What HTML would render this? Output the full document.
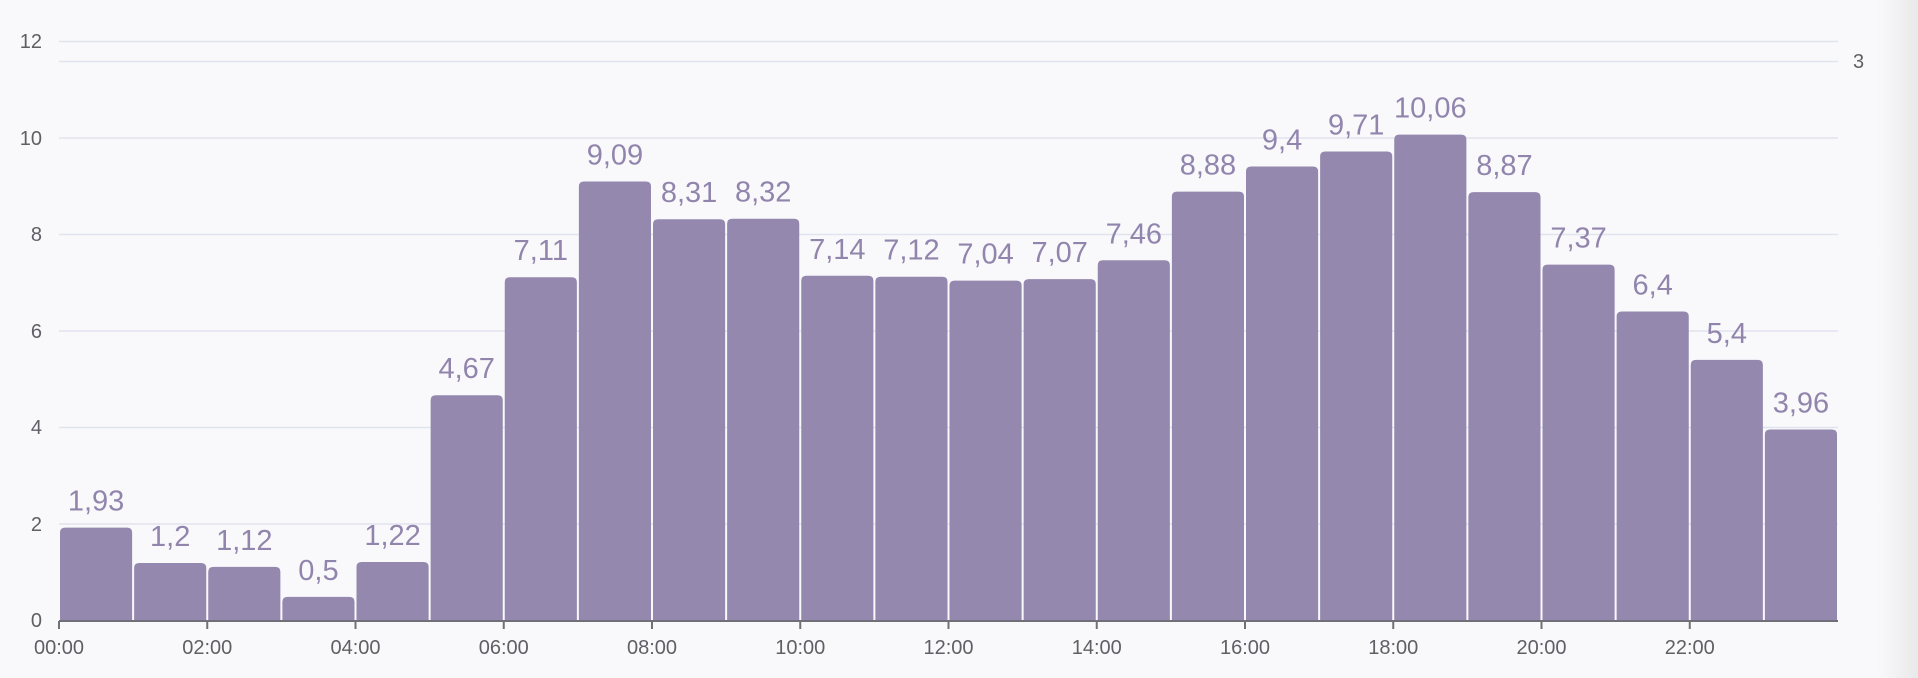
<!DOCTYPE html>
<html><head><meta charset="utf-8"><style>
html,body{margin:0;padding:0;width:1918px;height:678px;overflow:hidden;background:#f9f9fb;}
</style></head><body>
<svg width="1918" height="678" xmlns="http://www.w3.org/2000/svg">
<defs><linearGradient id="g" x1="0" x2="1"><stop offset="0" stop-color="#f9f9fb"/><stop offset="1" stop-color="#e9e9ea"/></linearGradient></defs>
<rect width="1918" height="678" fill="#f9f9fb"/>
<rect x="1878" y="0" width="40" height="678" fill="url(#g)"/>
<g stroke="#e1e3ef" stroke-width="1.5">
<line x1="59" x2="1838" y1="41.5" y2="41.5"/>
<line x1="59" x2="1838" y1="61.5" y2="61.5"/>
<line x1="59" x2="1838" y1="138" y2="138"/>
<line x1="59" x2="1838" y1="234.5" y2="234.5"/>
<line x1="59" x2="1838" y1="331" y2="331"/>
<line x1="59" x2="1838" y1="427.5" y2="427.5"/>
<line x1="59" x2="1838" y1="524" y2="524"/>
</g>
<g font-family="Liberation Sans, sans-serif" font-size="20" fill="#5f5f66" text-anchor="end">
<text x="42" y="48">12</text><text x="42" y="145">10</text><text x="42" y="241">8</text>
<text x="42" y="338">6</text><text x="42" y="434">4</text><text x="42" y="531">2</text><text x="42" y="627">0</text>
</g>
<text x="1853" y="68" font-family="Liberation Sans, sans-serif" font-size="20" fill="#5f5f66">3</text>
<g id="bars" fill="#9488ae"></g>
<g id="labels" font-family="Liberation Sans, sans-serif" font-size="29" fill="#9285ad" text-anchor="middle"></g>
<line x1="59" x2="1838" y1="621" y2="621" stroke="#707078" stroke-width="2"/>
<g id="ticks" stroke="#707078" stroke-width="2"></g>
<g id="xl" font-family="Liberation Sans, sans-serif" font-size="20" fill="#5f5f66" text-anchor="middle"></g>
<script>
var v=[1.93,1.2,1.12,0.5,1.22,4.67,7.11,9.09,8.31,8.32,7.14,7.12,7.04,7.07,7.46,8.88,9.4,9.71,10.06,8.87,7.37,6.4,5.4,3.96];
var ns="http://www.w3.org/2000/svg",b=document.getElementById('bars'),l=document.getElementById('labels'),t=document.getElementById('ticks'),xl=document.getElementById('xl');
var w=(1838-59)/24;
v.forEach(function(d,i){
 var x0=59+i*w+1,x1=59+(i+1)*w-1,y=621-d*48.35,r=5;
 var p=document.createElementNS(ns,'path');
 p.setAttribute('d','M'+x0+',621 L'+x0+','+(y+r)+' Q'+x0+','+y+' '+(x0+r)+','+y+' L'+(x1-r)+','+y+' Q'+x1+','+y+' '+x1+','+(y+r)+' L'+x1+',621 Z');
 b.appendChild(p);
 var tx=document.createElementNS(ns,'text');tx.setAttribute('x',(x0+x1)/2);tx.setAttribute('y',y-17);
 tx.textContent=String(d).replace('.',',');l.appendChild(tx);
});
for(var i=0;i<12;i++){var x=59+i*2*w;
 var ln=document.createElementNS(ns,'line');ln.setAttribute('x1',x);ln.setAttribute('x2',x);ln.setAttribute('y1',621);ln.setAttribute('y2',629);t.appendChild(ln);
 var tx=document.createElementNS(ns,'text');tx.setAttribute('x',x);tx.setAttribute('y',654);tx.textContent=(i*2<10?'0':'')+(i*2)+':00';xl.appendChild(tx);}
</script>
</svg>
</body></html>
